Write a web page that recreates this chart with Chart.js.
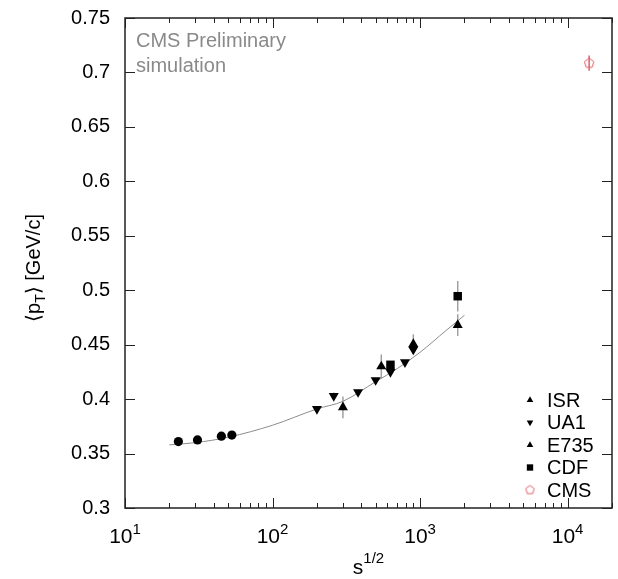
<!DOCTYPE html>
<html>
<head>
<meta charset="utf-8">
<script src="https://cdn.jsdelivr.net/npm/chart.js@4.4.0/dist/chart.umd.min.js"></script>
<style>
html, body { margin: 0; padding: 0; background: #fff; }
canvas { display: block; }
</style>
</head>
<body>
<canvas id="pt-chart" width="618" height="579"></canvas>
<script>
// values (sqrt(s) in GeV, <pT> in GeV/c)
const isrX = [23, 31, 45, 53];
const isrY = [0.361, 0.3625, 0.366, 0.367];

const ua1X = [200, 260, 380, 500, 630, 790, 900];
const ua1Y = [0.391, 0.403, 0.4065, 0.4175, 0.425, 0.434, 0.4455];
const ua1Err = [0.002, 0.003, 0.002, 0.002, 0.002, 0.002, 0.002];

const e735X = [300, 546, 900, 1800];
const e735Y = [0.3925, 0.430, 0.4505, 0.468];
const e735Err = [0.010, 0.011, 0.009, 0.010];

const cdfX = [630, 1800];
const cdfY = [0.4315, 0.4945];
const cdfErr = [0.003, 0.014];

const cmsX = [14000];
const cmsY = [0.7085];
const cmsErr = [0.007];

// fit curve, sampled from the drawn line
const fitX = [20, 30, 50, 100, 200, 300, 500, 700, 1000, 1500, 2000];
const fitY = [0.358, 0.360, 0.365, 0.376, 0.391, 0.398, 0.416, 0.428, 0.443, 0.463, 0.477];

const xTicks = [10, 100, 1000, 10000];
const xTickLabels = [['10', '1'], ['10', '2'], ['10', '3'], ['10', '4']];
const yTicks = [0.3, 0.35, 0.4, 0.45, 0.5, 0.55, 0.6, 0.65, 0.7, 0.75];
const yTickLabels = ['0.3', '0.35', '0.4', '0.45', '0.5', '0.55', '0.6', '0.65', '0.7', '0.75'];

const legendNames = ['ISR', 'UA1', 'E735', 'CDF', 'CMS'];

const FONT = "'Liberation Sans', Arial, sans-serif";
const CMS_RED = '#e0606a';

const pts = (xs, ys) => xs.map((v, i) => ({ x: v, y: ys[i] }));

const makePentagon = (r, lw) => {
    const c = document.createElement('canvas');
    const s = Math.ceil(r * 2 + lw * 2 + 2);
    c.width = s; c.height = s;
    const g = c.getContext('2d');
    g.strokeStyle = CMS_RED;
    g.lineWidth = lw;
    g.beginPath();
    for (let i = 0; i < 5; i++) {
        const a = -Math.PI / 2 + i * 2 * Math.PI / 5;
        const px = s / 2 + r * Math.cos(a), py = s / 2 + r * Math.sin(a);
        i ? g.lineTo(px, py) : g.moveTo(px, py);
    }
    g.closePath();
    g.stroke();
    return c;
};

const cmsMarker = makePentagon(5, 1);
const cmsLegendMarker = makePentagon(4.5, 1);

const supText = (ctx, base, sup, cx, baseY, size, supSize, rise) => {
    ctx.font = size + 'px ' + FONT;
    const w1 = ctx.measureText(base).width;
    ctx.font = supSize + 'px ' + FONT;
    const w2 = ctx.measureText(sup).width;
    const x0 = cx - (w1 + w2) / 2;
    ctx.textAlign = 'left';
    ctx.textBaseline = 'alphabetic';
    ctx.font = size + 'px ' + FONT;
    ctx.fillText(base, x0, baseY);
    ctx.font = supSize + 'px ' + FONT;
    ctx.fillText(sup, x0 + w1, baseY - rise);
};

const decor = {
    id: 'decor',
    beforeDatasetsDraw(chart) {
        const { ctx, scales: { x, y } } = chart;
        ctx.save();
        ctx.lineWidth = 1.5;
        chart.data.datasets.forEach(ds => {
            if (!ds.errors) return;
            ctx.strokeStyle = ds.errorColor;
            ds.data.forEach((p, i) => {
                const e = ds.errors[i];
                const px = x.getPixelForValue(p.x);
                ctx.beginPath();
                ctx.moveTo(px, y.getPixelForValue(p.y - e));
                ctx.lineTo(px, y.getPixelForValue(p.y + e));
                ctx.stroke();
            });
        });
        ctx.restore();
    },
    afterDraw(chart) {
        const { ctx, chartArea: a, scales: { x, y } } = chart;
        ctx.save();

        // frame
        ctx.strokeStyle = '#222';
        ctx.lineWidth = 1.5;
        ctx.strokeRect(a.left, a.top, a.right - a.left, a.bottom - a.top);

        // inward ticks on x (bottom and top)
        ctx.lineWidth = 1;
        for (let d = 10; d <= 10000; d *= 10) {
            for (let m = 1; m <= 9; m++) {
                const v = d * m;
                if (v > x.max) break;
                const px = Math.round(x.getPixelForValue(v)) + 0.5;
                const len = m === 1 ? 10 : 5;
                ctx.beginPath();
                ctx.moveTo(px, a.bottom); ctx.lineTo(px, a.bottom - len);
                ctx.moveTo(px, a.top); ctx.lineTo(px, a.top + len);
                ctx.stroke();
            }
        }
        // inward ticks on y (left and right)
        yTicks.forEach(v => {
            const py = Math.round(y.getPixelForValue(v)) + 0.5;
            ctx.beginPath();
            ctx.moveTo(a.left, py); ctx.lineTo(a.left + 10, py);
            ctx.moveTo(a.right, py); ctx.lineTo(a.right - 10, py);
            ctx.stroke();
        });

        ctx.fillStyle = '#000';
        // y tick labels
        ctx.font = '20px ' + FONT;
        ctx.textAlign = 'right';
        ctx.textBaseline = 'middle';
        yTicks.forEach((v, i) => ctx.fillText(yTickLabels[i], a.left - 15, y.getPixelForValue(v)));

        // x tick labels 10^n
        xTicks.forEach((v, i) => {
            supText(ctx, xTickLabels[i][0], xTickLabels[i][1], x.getPixelForValue(v), a.bottom + 35, 21, 15, 9);
        });

        // x title
        supText(ctx, 's', '1/2', (a.left + a.right) / 2, a.bottom + 66, 21, 15, 11);

        // y title, rotated
        ctx.save();
        ctx.translate(33, 268);
        ctx.rotate(-Math.PI / 2);
        ctx.textBaseline = 'alphabetic';
        ctx.textAlign = 'left';
        const parts = [['\u27E8p', 20, 7], ['T', 14, 12], ['\u27E9 [GeV/c]', 20, 7]];
        let tw = 0;
        parts.forEach(p => { ctx.font = p[1] + 'px ' + FONT; tw += ctx.measureText(p[0]).width; });
        let cx = -tw / 2;
        parts.forEach(p => {
            ctx.font = p[1] + 'px ' + FONT;
            ctx.fillText(p[0], cx, p[2]);
            cx += ctx.measureText(p[0]).width;
        });
        ctx.restore();

        // CMS label
        ctx.fillStyle = '#8a8a8a';
        ctx.font = '20px ' + FONT;
        ctx.textAlign = 'left';
        ctx.textBaseline = 'alphabetic';
        ctx.fillText('CMS Preliminary', a.left + 11, a.top + 29);
        ctx.fillText('simulation', a.left + 11, a.top + 54);

        // legend
        const markerOpts = [
            { pointStyle: 'triangle', radius: 3.8, rotation: 0 },
            { pointStyle: 'triangle', radius: 3.8, rotation: 180 },
            { pointStyle: 'triangle', radius: 3.8, rotation: 0 },
            { pointStyle: 'rect', radius: 4.5, rotation: 0 },
            { pointStyle: cmsLegendMarker, radius: 4.5, rotation: 0 }
        ];
        legendNames.forEach((name, i) => {
            const ly = 400 + i * 22.5;
            ctx.fillStyle = '#000';
            ctx.strokeStyle = '#000';
            Chart.helpers.drawPoint(ctx, Object.assign({ borderWidth: 0 }, markerOpts[i]), 530, ly);
            ctx.fillStyle = '#000';
            ctx.font = '20px ' + FONT;
            ctx.textBaseline = 'middle';
            ctx.fillText(name, 547, ly + 1);
        });

        ctx.restore();
    }
};

new Chart(document.getElementById('pt-chart'), {
    type: 'scatter',
    data: {
        datasets: [
            {
                label: 'fit',
                data: pts(fitX, fitY),
                showLine: true,
                borderColor: '#8c8c8c',
                borderWidth: 1,
                pointRadius: 0,
                cubicInterpolationMode: 'monotone',
                order: 10
            },
            {
                label: 'ISR',
                data: pts(isrX, isrY),
                pointStyle: 'circle',
                pointRadius: 4.6,
                backgroundColor: '#000',
                borderWidth: 0
            },
            {
                label: 'UA1',
                data: pts(ua1X, ua1Y),
                errors: ua1Err,
                errorColor: '#a0a0a0',
                pointStyle: 'triangle',
                rotation: 180,
                pointRadius: 5.8,
                backgroundColor: '#000',
                borderWidth: 0
            },
            {
                label: 'E735',
                data: pts(e735X, e735Y),
                errors: e735Err,
                errorColor: '#a0a0a0',
                pointStyle: 'triangle',
                pointRadius: 5.8,
                backgroundColor: '#000',
                borderWidth: 0
            },
            {
                label: 'CDF',
                data: pts(cdfX, cdfY),
                errors: cdfErr,
                errorColor: '#a0a0a0',
                pointStyle: 'rect',
                pointRadius: 6,
                backgroundColor: '#000',
                borderWidth: 0
            },
            {
                label: 'CMS',
                data: pts(cmsX, cmsY),
                errors: cmsErr,
                errorColor: CMS_RED,
                pointStyle: cmsMarker,
                pointRadius: 5
            }
        ]
    },
    options: {
        responsive: false,
        animation: false,
        devicePixelRatio: 1,
        layout: { padding: { left: 125, top: 18, right: 4, bottom: 71 } },
        scales: {
            x: { type: 'logarithmic', min: 10, max: 20000, display: false },
            y: { type: 'linear', min: 0.3, max: 0.75, display: false }
        },
        plugins: {
            legend: { display: false },
            tooltip: { enabled: false }
        }
    },
    plugins: [decor]
});
</script>
</body>
</html>
